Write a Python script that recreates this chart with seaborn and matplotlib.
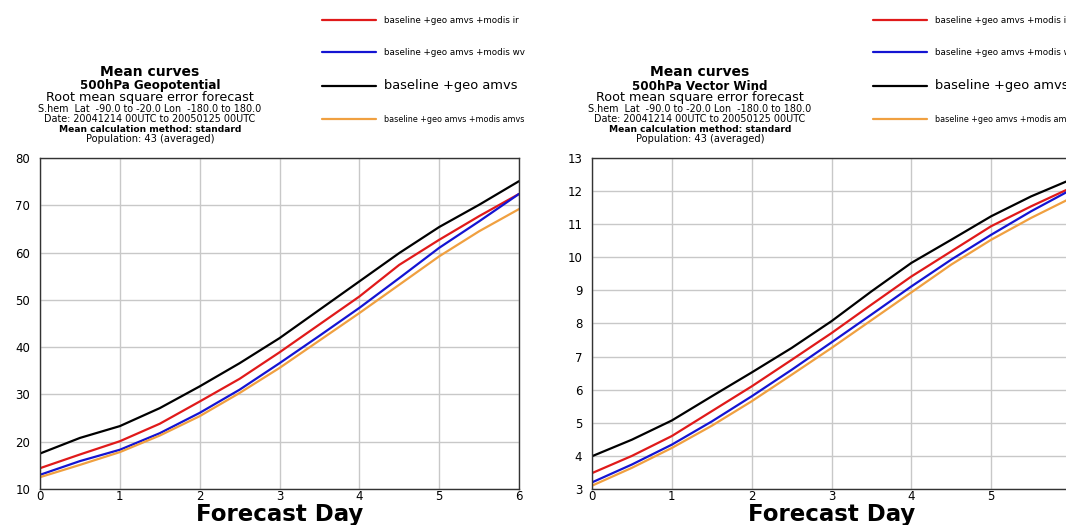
import numpy as np
import pandas as pd
import matplotlib
matplotlib.use("Agg")
import matplotlib.pyplot as plt
import seaborn as sns

# ---- data ----
days = [0, 0.5, 1, 1.5, 2, 2.5, 3, 3.5, 4, 4.5, 5, 5.5, 6]
series_names = ["baseline +geo amvs +modis ir",
                "baseline +geo amvs +modis wv",
                "baseline +geo amvs",
                "baseline +geo amvs +modis amvs"]
series_colors = ["#e01a1a", "#1414d2", "#000000", "#f0a040"]

geo_ir = [14.4, 17.3, 20.1, 23.8, 28.5, 33.3, 38.9, 44.8, 50.7, 57.4, 62.7, 67.7, 72.4]
geo_wv = [13.0, 15.9, 18.3, 21.8, 26.1, 31.0, 36.6, 42.4, 48.3, 54.6, 61.0, 66.6, 72.4]
geo_base = [17.5, 20.8, 23.3, 27.1, 31.7, 36.6, 41.9, 47.9, 53.9, 59.9, 65.4, 70.1, 75.1]
geo_amvs = [12.5, 15.1, 17.8, 21.3, 25.4, 30.3, 35.6, 41.4, 47.2, 53.2, 59.2, 64.5, 69.2]

wind_ir = [3.48, 4.00, 4.60, 5.35, 6.10, 6.90, 7.71, 8.57, 9.42, 10.18, 10.94, 11.54, 12.10]
wind_wv = [3.20, 3.74, 4.34, 5.04, 5.80, 6.60, 7.43, 8.27, 9.12, 9.93, 10.68, 11.39, 12.04]
wind_base = [3.99, 4.49, 5.07, 5.80, 6.52, 7.26, 8.07, 8.97, 9.83, 10.53, 11.24, 11.84, 12.35]
wind_amvs = [3.10, 3.64, 4.24, 4.91, 5.65, 6.45, 7.26, 8.10, 8.94, 9.78, 10.53, 11.19, 11.79]

geo_ticks = [10, 20, 30, 40, 50, 60, 70, 80]
wind_ticks = [3, 4, 5, 6, 7, 8, 9, 10, 11, 12, 13]
geo_day_ticks = [0, 1, 2, 3, 4, 5, 6]
wind_day_ticks = [0, 1, 2, 3, 4, 5]

title_lines_geo = ["Mean curves", "500hPa Geopotential", "Root mean square error forecast",
                   "S.hem  Lat  -90.0 to -20.0 Lon  -180.0 to 180.0",
                   "Date: 20041214 00UTC to 20050125 00UTC",
                   "Mean calculation method: standard", "Population: 43 (averaged)"]
title_lines_wind = ["Mean curves", "500hPa Vector Wind", "Root mean square error forecast",
                    "S.hem  Lat  -90.0 to -20.0 Lon  -180.0 to 180.0",
                    "Date: 20041214 00UTC to 20050125 00UTC",
                    "Mean calculation method: standard", "Population: 43 (averaged)"]


def make_df(vals):
    rows = []
    for name, v in zip(series_names, vals):
        for d, y in zip(days, v):
            rows.append({"day": d, "rmse": y, "series": name})
    return pd.DataFrame(rows)


df_geo = make_df([geo_ir, geo_wv, geo_base, geo_amvs])
df_wind = make_df([wind_ir, wind_wv, wind_base, wind_amvs])

sns.set_theme(style="white")
plt.rcParams['font.family'] = ['DejaVu Sans']
plt.rcParams['text.color'] = 'black'
plt.rcParams['axes.labelcolor'] = 'black'
plt.rcParams['xtick.color'] = 'black'
plt.rcParams['ytick.color'] = 'black'

W, H = 1066, 525
fig = plt.figure(figsize=(W / 100, H / 100), dpi=100)
fig.patch.set_facecolor("white")

ax1 = fig.add_axes([40 / W, 1 - 489 / H, 479 / W, 331 / H])
ax2 = fig.add_axes([592 / W, 1 - 489 / H, 479 / W, 331 / H])

palette = dict(zip(series_names, series_colors))

title_sizes = [10, 8.6, 9.2, 6.9, 6.9, 6.6, 7.1]
title_weights = ["bold", "bold", "normal", "normal", "normal", "bold", "normal"]
title_ys = [72, 86, 98, 109, 119, 129, 139]
legend_sizes = [6.3, 6.3, 9.4, 5.8]

for ax, df, ticks, xt, lines, cx, lx in [
        (ax1, df_geo, geo_ticks, geo_day_ticks, title_lines_geo, 150, 322),
        (ax2, df_wind, wind_ticks, wind_day_ticks, title_lines_wind, 700, 873)]:
    sns.lineplot(data=df, x="day", y="rmse", hue="series", hue_order=series_names,
                 palette=palette, errorbar=None, linewidth=1.6, ax=ax, legend=False)
    ax.set_xlim(0, 6)
    ax.set_ylim(ticks[0], ticks[-1])
    ax.set_xticks(xt)
    ax.set_yticks(ticks)
    ax.grid(True, color="#c8c8c8", linewidth=1.0)
    ax.set_axisbelow(True)
    for s in ax.spines.values():
        s.set_visible(True)
        s.set_color("#333333")
        s.set_linewidth(1.0)
    ax.tick_params(axis="y", length=5, width=1, color="#333333", pad=2, labelsize=8.5)
    ax.tick_params(axis="x", length=0, pad=1, labelsize=8.5)
    ax.set_xlabel("Forecast Day", fontsize=16.5, fontweight="bold", labelpad=0)
    ax.set_ylabel("")

    for t, sz, wt, ty in zip(lines, title_sizes, title_weights, title_ys):
        fig.text(cx / W, 1 - ty / H, t, ha="center", va="center", fontsize=sz, fontweight=wt)

    handles = list(ax.get_lines())[:4]
    leg = fig.legend(handles, series_names, loc="upper left",
                     bbox_to_anchor=(lx / W, 1 - 16 / H), frameon=False,
                     fontsize=6, handlelength=6.5, handletextpad=0.9,
                     labelspacing=2.72, borderpad=0, borderaxespad=0)
    for txt, sz in zip(leg.get_texts(), legend_sizes):
        txt.set_fontsize(sz)
    for lh in leg.legend_handles:
        lh.set_linewidth(1.6)

fig.savefig("out.png", dpi=100, facecolor="white")
